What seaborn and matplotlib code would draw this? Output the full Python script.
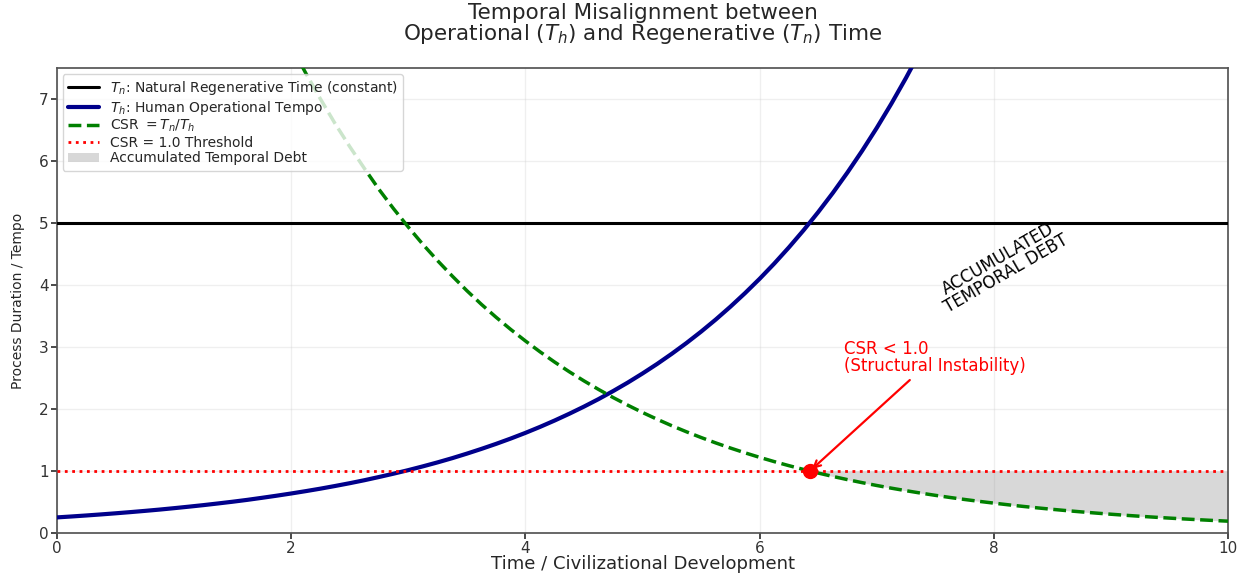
"""Temporal misalignment between operational and regenerative time."""

import matplotlib

matplotlib.use("Agg")
import matplotlib.pyplot as plt
import numpy as np
import seaborn as sns

# time axis (civilizational development), sampled every 0.125
time_points = [
    0.0, 0.125, 0.25, 0.375, 0.5, 0.625, 0.75, 0.875, 1.0, 1.125, 1.25, 1.375,
    1.5, 1.625, 1.75, 1.875, 2.0, 2.125, 2.25, 2.375, 2.5, 2.625, 2.75, 2.875,
    3.0, 3.125, 3.25, 3.375, 3.5, 3.625, 3.75, 3.875, 4.0, 4.125, 4.25, 4.375,
    4.5, 4.625, 4.75, 4.875, 5.0, 5.125, 5.25, 5.375, 5.5, 5.625, 5.75, 5.875,
    6.0, 6.125, 6.25, 6.375, 6.5, 6.625, 6.75, 6.875, 7.0, 7.125, 7.25, 7.375,
    7.5, 7.625, 7.75, 7.875, 8.0, 8.125, 8.25, 8.375, 8.5, 8.625, 8.75, 8.875,
    9.0, 9.125, 9.25, 9.375, 9.5, 9.625, 9.75, 9.875, 10.0,
]
# human operational tempo T_h
human_tempo = [
    0.250, 0.265, 0.281, 0.298, 0.316, 0.335, 0.355, 0.376, 0.399, 0.423,
    0.448, 0.475, 0.503, 0.533, 0.566, 0.600, 0.636, 0.674, 0.714, 0.757,
    0.802, 0.850, 0.902, 0.956, 1.013, 1.074, 1.138, 1.206, 1.279, 1.356,
    1.437, 1.523, 1.614, 1.711, 1.814, 1.923, 2.038, 2.160, 2.290, 2.427,
    2.573, 2.727, 2.891, 3.064, 3.248, 3.443, 3.650, 3.869, 4.101, 4.347,
    4.608, 4.884, 5.177, 5.487, 5.817, 6.166, 6.536, 6.928, 7.344, 7.784,
    8.25, 8.745, 9.27, 9.826, 10.41, 11.04, 11.70, 12.40, 13.15, 13.94,
    14.77, 15.66, 16.60, 17.60, 18.65, 19.77, 20.95, 22.21, 23.54, 24.95,
    26.45,
]
natural_time = 5.0
csr_threshold = 1.0
crossing_point = (6.43, 1.0)

x = np.array(time_points)
th = np.array(human_tempo)
csr = natural_time / th

sns.set_theme(style="ticks")
plt.rcParams["font.family"] = ["DejaVu Sans"]

fig, ax = plt.subplots(figsize=(12.38, 5.73), dpi=100)
fig.subplots_adjust(left=0.046, right=0.992, bottom=0.070, top=0.881)

ax.axhline(natural_time, color="black", lw=2.2, zorder=3,
           label=r"$T_n$: Natural Regenerative Time (constant)")
sns.lineplot(x=x, y=th, color="darkblue", lw=3, ax=ax, zorder=3,
             label=r"$T_h$: Human Operational Tempo")
sns.lineplot(x=x, y=csr, color="green", lw=2.5, linestyle="--", ax=ax, zorder=3,
             label=r"CSR $= T_n/T_h$")
ax.axhline(csr_threshold, color="red", lw=2, linestyle=":", zorder=3,
           label="CSR = 1.0 Threshold")
ax.fill_between(x, csr, csr_threshold, where=csr <= csr_threshold,
                interpolate=True, color="gray", alpha=0.3, lw=0,
                label="Accumulated Temporal Debt")

ax.plot(*crossing_point, "o", color="red", markersize=10, zorder=5)
ax.annotate("CSR < 1.0\n(Structural Instability)", xy=crossing_point,
            xytext=(6.72, 2.55), color="red", fontsize=12, linespacing=0.95,
            ha="left", va="bottom",
            arrowprops=dict(arrowstyle="->", color="red", lw=1.6))
ax.text(8.07, 4.3, "ACCUMULATED\nTEMPORAL DEBT", rotation=30, fontsize=12,
        linespacing=0.95, ha="center", va="center", color="black")

ax.set_xlim(0, 10)
ax.set_ylim(0, 7.5)
ax.set_xticks([0, 2, 4, 6, 8, 10])
ax.set_yticks(range(0, 8))
ax.tick_params(labelsize=11, colors="#333333", length=4, pad=2)
ax.grid(alpha=0.3)
for spine in ax.spines.values():
    spine.set_visible(True)
    spine.set_color("#555555")

ax.set_xlabel("Time / Civilizational Development", fontsize=13, labelpad=-1)
ax.set_ylabel("Process Duration / Tempo", fontsize=10, labelpad=10)
ax.set_title("Temporal Misalignment between\n"
             r"Operational ($T_h$) and Regenerative ($T_n$) Time",
             fontsize=15.5, linespacing=0.95, pad=20)

ax.legend(loc="upper left", fontsize=10, framealpha=0.8, labelspacing=0.1,
          borderpad=0.4, handlelength=2.2, borderaxespad=0.4)

fig.savefig("out.png", dpi=100)
